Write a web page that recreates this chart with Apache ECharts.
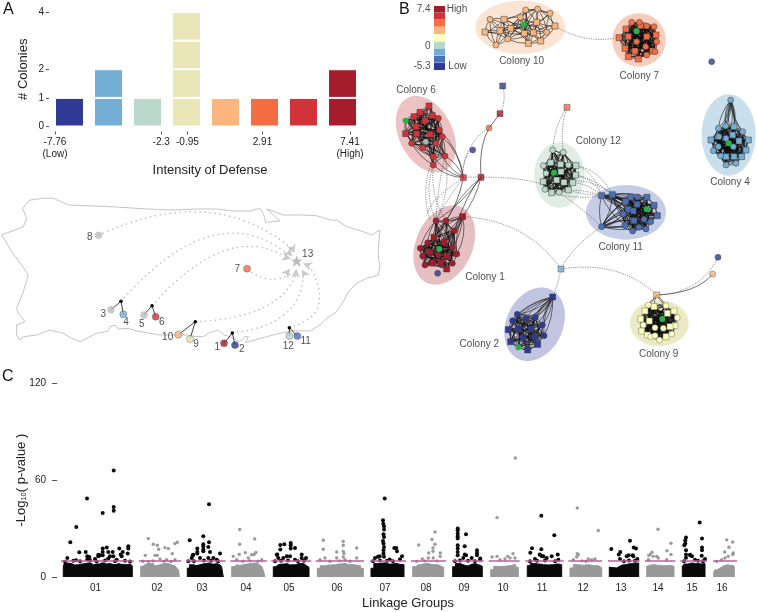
<!DOCTYPE html>
<html><head><meta charset="utf-8">
<style>html,body{margin:0;padding:0;background:#fff}#c{width:757px;height:612px}</style>
<script src="https://cdn.jsdelivr.net/npm/echarts@6/dist/echarts.min.js"></script>
</head><body><div id="c"></div>
<script>
const FONT='"Liberation Sans",Arial,sans-serif';
const NAVY='#2E3A94',BLUE='#4A70B8',SKY='#74AED4',MINT='#BAD8CC',SAND='#EAE6B8',PEACH='#FBB57F',ORANGE='#F46D43',RED='#D13438',DARK='#A51C2D',CREAM='#FFFFBF',GREEN='#27B34B';

// ---------- Panel A
const histCategories=['b1','b2','b3','b4','b5','b6','b7','b8'];
const histCounts=[1,2,1,4,1,1,1,2];
const histColors=[NAVY,SKY,MINT,SAND,PEACH,ORANGE,RED,DARK];
const histTicks=[-7.76,-2.3,-0.95,2.91,7.41];
const histTickLabels={'-7.76':'-7.76\n(Low)','-2.3':'-2.3\n ','-0.95':'-0.95\n ','2.91':'2.91\n ','7.41':'7.41\n(High)'};
const histYTicks=[0,1,2,4];

// ---------- Panel A2: map, in map units
const mapOutline=[[68,70],[90,45],[130,40],[160,40],[205,60],[260,62],[330,65],[380,68],[440,72],[520,75],[590,72],[650,72],[700,78],[750,78],[780,70],[790,85],[797,112],[840,108],[800,72],[850,90],[905,90],[950,92],[990,105],[1010,105],[1040,125],[1090,140],[1115,150],[1140,135],[1135,190],[1135,225],[1140,240],[1135,270],[1100,280],[1070,295],[1045,320],[1030,350],[1010,380],[980,400],[960,420],[930,438],[880,437],[840,445],[800,455],[738,472],[745,455],[735,455],[718,470],[690,455],[672,450],[655,435],[630,442],[610,455],[590,455],[560,450],[520,450],[480,450],[440,443],[410,438],[385,430],[355,432],[345,420],[330,425],[325,438],[290,445],[240,470],[215,460],[190,445],[150,435],[110,450],[70,455],[60,465],[50,450],[50,420],[75,410],[55,385],[50,370],[70,320],[85,270],[65,240],[35,200],[5,150],[70,125],[80,100],[68,70]];
const mapFlights=[[296,151,640,-10,880,195],[363,349,640,33,860,205],[456,362,680,110,855,215],[755,262,810,300,870,268],[586,410,830,400,885,275],[697,444,900,420,910,275],[868,428,1010,390,930,245]];
const mapStems=[[363,349,370,388],[363,349,333,374],[456,362,467,395],[456,362,432,390],[586,410,535,449],[586,410,570,462],[697,444,672,475],[697,444,705,480],[868,428,868,453],[868,428,892,453]];
const mapJunctions=[[363,349],[456,362],[586,410],[697,444],[868,428]];
const mapColonies=[[672,475],[705,480],[333,374],[370,388],[432,390],[467,395],[741,251],[296,151],[570,462],[535,449],[892,453],[868,453]];
const mapColonyColors=[DARK,NAVY,'#BDBDBD',SKY,'#BDBDBD',RED,ORANGE,'#BDBDBD',SAND,PEACH,BLUE,MINT];
const mapStar=[[890,228]];
const mapArrows=[[878,192],[860,218],[862,262],[888,265],[912,265],[922,240],[868,205]];
const mapLabels=[[652,488,'1'],[725,492,'2'],[310,387,'3'],[378,412,'4'],[425,418,'5'],[485,413,'6'],[712,254,'7'],[269,156,'8'],[588,477,'9'],[503,457,'10'],[917,468,'11'],[865,484,'12'],[923,209,'13']];

// ---------- Panel B: network, in network units
const colorbarCells=[[18,38],[39,59],[60,80],[81,102],[103,124],[125,146],[146,167],[168,188],[189,210]];
const colorbarColors=[DARK,RED,ORANGE,PEACH,CREAM,MINT,SKY,BLUE,NAVY];
const colorbarLabels=[[152,28,'7.4','right'],[200,28,'High','left'],[152,138,'0','right'],[152,200,'-5.3','right'],[205,200,'Low','left']];
const colonyNames=[[425,183,'Colony 10'],[778,230,'Colony 7'],[108,272,'Colony 6'],[655,425,'Colony 12'],[1050,548,'Colony 4'],[722,743,'Colony 11'],[315,832,'Colony 1'],[298,1033,'Colony 2'],[836,1063,'Colony 9']];

const colony10Squares=[[315,96],[372,58],[360,92],[433,100],[460,98],[470,67],[445,130],[482,123],[525,78],[392,85]];
const colony10Circles=[[330,58],[348,135],[383,117],[421,52],[437,30],[473,27],[510,40],[500,97]];
const colony7Squares=[[717,113],[738,87],[745,110],[735,145],[745,170],[775,177],[765,153],[818,153],[828,105],[800,110],[782,77]];
const colony7Circles=[[755,67],[778,67],[800,78],[822,80],[770,125],[797,140],[825,155],[830,125],[800,165]];
const colony6Squares=[[147,318],[120,337],[102,350],[135,362],[157,347],[108,380],[77,401],[110,401],[150,403]];
const colony6Circles=[[175,355],[178,390],[187,410],[168,430],[128,443],[95,430],[160,470],[195,468],[160,495]];
const colony1Squares=[[248,650],[162,712],[193,727],[150,757],[200,768],[182,788],[158,788],[200,807]];
const colony1Circles=[[168,662],[198,662],[223,692],[143,728],[217,742],[121,745],[128,768],[230,762],[135,795],[217,790],[175,765]];
const colony12Squares=[[512,488],[542,493],[588,497],[587,525],[490,545],[530,540],[552,547],[578,548],[565,570],[515,578],[543,515]];
const colony12Circles=[[518,450],[550,457],[490,497],[565,495],[495,568],[537,577],[498,520]];
const colony11Squares=[[665,587],[697,584],[752,592],[801,592],[737,605],[822,616],[745,628],[760,633],[771,613],[832,647],[762,662]];
const colony11Circles=[[773,591],[730,642],[792,658],[812,665],[735,675],[758,693],[777,682],[798,687],[665,680]];
const colony4Squares=[[1062,380],[993,420],[1058,405],[1077,423],[1098,450],[1085,470],[1038,470],[1062,470],[1105,420]];
const colony4Circles=[[1052,300],[1015,385],[1037,378],[1088,395],[1017,410],[1015,440],[1000,452],[1022,468],[1038,495],[1068,490],[1060,440],[1038,415]];
const colony2Squares=[[518,891],[415,987],[385,989],[453,987],[430,1013],[465,1012],[392,1025],[443,1050],[473,1033]];
const colony2Circles=[[412,943],[438,955],[466,952],[398,962],[487,975],[492,1007]];
const colony9Squares=[[795,933],[782,957],[785,993],[802,1005],[808,963],[822,920],[862,940],[882,933],[885,977],[870,980],[858,1010]];
const colony9Circles=[[858,917],[892,953],[790,975],[825,983],[850,985],[875,1002],[812,1010],[825,1007],[838,1020],[805,915]];

const greenNodes=[[432,74],[770,94],[77,362],[178,747],[522,518],[800,628],[1046,430],[415,1042],[847,957]];
// cx, cy, rx, ry, tilt in degrees
const colonyEllipses=[[421,82,135,80,0],[777,120,80,80,0],[138,403,80,122,27],[193,735,85,125,-24],[538,525,75,98,0],[738,637,120,82,0],[1046,405,81,122,0],[464,973,85,115,-25],[838,970,88,69,0]];
const colonyFills=['#FBE5D2','#F9CDBB','#EDC2C2','#E6BFC3','#E1ECE5','#C6CDE6','#C9DFEC','#C2C5E1','#ECEBC6'];
const colonyInk=[PEACH,ORANGE,RED,DARK,MINT,BLUE,SKY,NAVY,CREAM];

const looseSquares=[[368,258,NAVY],[360,341,DARK],[250,533,RED],[303,532,DARK],[561,322,ORANGE],[543,807,SKY],[830,885,PEACH]];
const looseCircles=[[995,185,NAVY],[327,384,ORANGE],[278,450,NAVY],[137,425,MINT],[173,820,NAVY],[1014,772,NAVY],[998,822,PEACH]];

const dottedLinks=[[525,78,610,130,705,115],[303,532,420,530,495,555],[250,533,276,530,303,532],[561,322,525,370,518,450],[561,322,540,380,550,457],[278,450,245,470,250,533],[327,384,260,420,245,530],[368,258,380,300,360,341],[248,650,440,660,543,807],[543,807,535,850,518,891],[543,807,575,740,665,680],[543,807,720,780,830,885],[830,885,960,880,1014,772],[588,497,640,510,665,587],[587,525,640,535,665,587],[578,548,625,550,665,587],[565,570,620,570,665,587],[552,547,630,530,697,584],[588,497,660,510,697,584],[587,525,650,540,697,584],[515,578,590,600,665,587],[565,570,630,590,697,584],[537,577,600,620,665,680],[160,495,130,580,168,662],[160,495,150,590,198,662],[195,468,170,580,168,662],[250,533,200,600,168,662],[160,470,120,570,150,660],[195,468,215,570,168,662],[250,533,150,600,143,640]];
const solidLinks=[[830,885,950,880,998,822],[360,341,344,362,327,384],[327,384,295,440,303,532],[250,533,235,610,198,662],[303,532,260,580,223,692]];
const hubFans=[
 {hub:[250,533],to:[[160,470],[195,468],[160,495],[187,410],[168,430],[178,390]],bend:.18},
 {hub:[303,532],to:[[248,650],[198,662],[168,662]],bend:.1},
 {hub:[248,650],to:[[198,662],[223,692],[193,727],[217,742],[230,762]],bend:.2},
 {hub:[518,891],to:colony2Circles.concat(colony2Squares.slice(1,5)),bend:.16},
 {hub:[1052,300],to:[[1015,385],[1037,378],[1062,380],[1088,395],[1038,415],[1058,405]],bend:.2},
 {hub:[665,680],to:[[737,605],[745,628],[760,633],[730,642],[762,662],[735,675],[771,613]],bend:.16},
 {hub:[665,587],to:[[737,605],[752,592],[745,628],[771,613]],bend:.12},
 {hub:[830,885],to:[[805,915],[822,920],[858,917],[795,933],[862,940]],bend:.1}];

// ---------- Panel C
const lgTickPositions=[95.5,157,202,246,289,337,385,426,464,503,542,583,621,658,692,722];
const lgTickLabels=['01','02','03','04','05','06','07','08','09','10','11','12','13','14','15','16'];
const lgThresholds=[[61,133.7],[139,181.3],[185.7,225.7],[230.3,267],[271.3,311.3],[315.7,364],[370,406],[411,446],[452,483.7],[488.7,519.7],[525.3,563.7],[568.3,602],[608,639.7],[645,675.3],[680.3,707],[713,737]];
const thresholdValue=9.9;
const lg01Body=[[63.3,7],[66,8.6],[70,8.3],[73,7.4],[76.7,7.6],[80,8],[83.3,8.3],[88.3,8.7],[93.3,7.6],[97,8],[101.7,8.7],[106,8],[110,8.3],[114,7.7],[118.3,8.3],[122,7.8],[126.7,7.6],[130,8],[132.3,7]];
const lg02Body=[[140.7,6.6],[145,7.6],[148,8.4],[151.7,8.3],[156,7],[160,7.6],[164,8.3],[168.3,8.3],[172,7.4],[175,7],[178,5.6],[179.3,4.5]];
const lg03Body=[[187.3,5.5],[191.7,7.6],[196,7],[200,7.6],[204,8.2],[208.3,8.7],[212,8],[216.7,8.3],[220,7.6],[223.3,6.2]];
const lg04Body=[[231.7,6.4],[236.7,7.6],[240,7.1],[243.3,7.6],[247,8],[250,8.3],[253,8.5],[256.7,8.7],[259,7.6],[261.7,6.6],[265,4]];
const lg05Body=[[273.3,6.4],[278.3,7.6],[282,8],[286.7,8.3],[290,7.4],[293.3,7.6],[298,8.2],[301.7,8.3],[306,7.2],[309,6]];
const lg06Body=[[317.3,5.4],[323.3,7],[328,7.4],[333.3,7.6],[338,8],[343.3,8.3],[348,7.8],[353.3,7.6],[358,7],[363.3,5.4]];
const lg07Body=[[371,5.4],[376.7,8.3],[383.3,8.7],[389,8],[395,8.3],[400,7.8],[404,7.6]];
const lg08Body=[[412.7,6.4],[418.3,7.6],[423,8],[426.7,8.3],[431,7.7],[435,7.6],[440,7],[443.7,6]];
const lg09Body=[[452.7,6.4],[458.3,8.3],[463,7.6],[466.7,7],[471,7.8],[475,8.3],[479,7.5],[482.3,6.6]];
const lg10Body=[[490.7,4.5],[496.7,6.6],[501,6.4],[505,6.6],[509,7],[513.3,7.6],[518.3,6]];
const lg11Body=[[527.3,7],[533.3,8.3],[538,8],[543.3,7.6],[548,7.4],[551.7,7.6],[556,8],[561.7,7.6]];
const lg12Body=[[570,5.6],[576.7,7.6],[582,7.3],[586.7,7.6],[591,7.2],[595,7],[601.7,5.8]];
const lg13Body=[[609.3,6.2],[612,5.8],[616.7,5.6],[620,6.8],[623.3,7.6],[628,8],[631.7,8.3],[635,8.5],[638.7,8.7]];
const lg14Body=[[646.7,6.6],[650,7.3],[653.3,7.6],[658,7.2],[663.3,7],[668,7.2],[674,6.6]];
const lg15Body=[[682.3,6.6],[686,8],[690,8.7],[694,8.2],[698.3,8.3],[702,8.1],[705,8.3]];
const lg16Body=[[713.7,3],[716,4.4],[718.3,5.6],[722,6.8],[725,7.6],[730,7.2],[734.3,6.6]];
const lgBodies=[lg01Body,lg02Body,lg03Body,lg04Body,lg05Body,lg06Body,lg07Body,lg08Body,lg09Body,lg10Body,lg11Body,lg12Body,lg13Body,lg14Body,lg15Body,lg16Body];

const oddGroupHits=[
[113.7,66],[87,48.6],[113.7,43.4],[113.7,41],[102.7,39.7],[76.3,31],[70.3,21.5],[79.3,15.3],[85.7,15.5],[67.3,11.8],[106.7,18.2],[102.7,17.6],[102.7,15.5],[102.7,13.4],[108.3,15.5],[112.7,15.5],[119.3,17.6],[128.3,19],[128.3,17.6],[127.7,14.5],[120.7,14],[122.7,15.5],[100,13.4],[98.3,12.8],[87.3,12.8],[87.3,10.8],[89.3,12.4],[76,10.3],[108.3,11.4],[95,11.2],[98.3,13.8],[110,12.8],[113.3,12.8],[121.7,12.8],[116.7,10.7],
[65,9.5],[73.3,10],[80,9.8],[90,10.3],[96.7,9.6],[105,10.2],[115,9.8],[125,10],[130,9.6],
[209,45.1],[203.3,25.2],[189.7,22.8],[209,21.5],[203.3,20.3],[203.3,19],[197.3,17.6],[197.3,15.5],[197.3,14.5],[203.3,17],[203.3,15.9],[208.3,18.6],[210,15.5],[192.7,13.4],[220,14.5],[191.7,11.8],[193.3,13.8],[200,11.8],[208.3,11.8],[213.3,11.8],[188.3,9.7],[216.7,10.7],
[194,9.8],[204,10.2],[211,10],[218,9.8],
[290.7,21],[284.3,20.3],[280.3,19.9],[280.3,17],[290.7,19.7],[290.7,17.6],[295,18],[277.3,14],[301.7,14],[276.7,13.8],[278.3,11.8],[283.3,11.8],[286.7,12.8],[290,12.8],[295,10.7],[306,11.8],[301.7,11.8],
[275,9.8],[281,10],[288,10.2],[298,9.8],[304,10],
[384.7,48.6],[383,35.2],[383.3,33],[384,31.4],[384,29.4],[383.5,26.5],[384,24.8],[383,22.3],[383.5,20.7],[384,18.6],[383.5,16.5],[383.5,14.5],[384,12.5],[394.3,18],[396.3,18],[397,16],[402,12.8],[400,11],[389.7,10.8],[379.7,12.8],[378,12.5],[375,11.8],
[373,9.8],[380,10.2],[387,10],[393,9.8],
[457.7,30],[457.7,29],[457.7,26.9],[457.7,25.2],[457.7,23.8],[457.7,19.7],[457.7,17.6],[457.7,15.5],[457.7,13.4],[466,26.5],[464.7,19],[464.7,14],[466,13.4],[477,16.5],[477,14.9],[477,13.4],[480.3,11.4],[463.3,11.8],[471.7,11.8],[480,10.7],
[455,9.8],[460,10.2],[468,10],[475,9.7],
[541.3,38],[554.3,25.8],[532,17.8],[530.3,15.1],[541.3,17.2],[557.7,14],[539.7,14],[542,12.8],[535,11.2],[540,13.8],[543.3,12.8],[546.7,11.8],[551.7,12.8],[558.3,10.7],
[530,9.8],[537,10],[545,10.2],[555,9.8],
[630,22.5],[611.3,17.4],[620.3,15.5],[618.7,13.9],[633.7,18.2],[636,17.6],[628.7,13.4],[632.7,13.4],[626.7,12.8],[620,11.2],[633.3,12.8],[637.3,11.2],
[624,9.8],[629,10.2],[635,10],
[699.7,33.7],[686,24.4],[685.3,22.8],[685.3,20.7],[684.3,19.7],[702,23.8],[702,18.2],[702,16.6],[686,16.6],[686,14],[686,12],[690.3,13.4],[692,12.8],[690,13.8],[701.7,13.2],[695,10.7],[705,11.2],
[684,9.8],[698,10],[703,9.8]];
const evenGroupHits=[
[148.3,23.8],[153.3,20.3],[157.3,19.7],[158.7,17.2],[165,18.2],[168.3,17.6],[175,20.7],[177.3,21.5],[172.3,14.5],[145.3,13.4],[155,13.4],[157.3,13.4],[148.3,9.7],[160,11.2],[166.7,10.7],[175,10.7],
[143,9.8],[153,10],[164,9.8],[171,9.6],
[239.7,29.4],[254.7,23.6],[239.7,20.3],[245.3,15.1],[239.3,14],[233.3,12.8],[256,15.2],[254,14],[251.7,13.8],[248.3,11.8],[236.7,10.7],[261.7,10.7],
[243,9.8],[250,10],[258,9.8],
[355,120.2],[323.3,22.8],[343.3,22.1],[343.3,19.7],[323.3,17.2],[356.7,18],[336.7,15.5],[343.3,15.9],[344,14.5],[325,11.8],[336.7,11.8],[343.3,12.4],[320,10.7],[356.7,11.8],[345,10.7],
[330,9.8],[340,10],[350,9.8],
[435,27.9],[432,23.2],[418.7,19.9],[435,20.3],[433,18],[433,15.9],[428.7,14.9],[440.3,14.9],[440.3,12.8],[422.3,11.2],[428.3,11.8],[433.3,11.8],[416.7,9.7],
[425,10],[437,10],
[515.3,73.7],[497,36.8],[492,12.4],[497,12.8],[513,14.5],[507.7,12.8],[510,11.8],[505,11.2],[500,10.7],[515,11.8],
[577.3,42.8],[598.3,28.8],[577.3,14.5],[576.7,12.4],[573.3,10.7],[578.3,13.8],[588.3,11.2],[595,11.2],[591.7,10.7],
[582,10],[586,9.8],
[658,29.6],[671,20.9],[667,16.3],[671,14],[652,15.3],[650.3,14],[648.7,13.4],[653.3,12.8],[658.3,11.8],[656.7,12.8],[666.7,10.7],[648.3,10.7],
[726.7,23],[732.7,21.7],[729,18.4],[724.7,15.5],[732.7,14],[725,11.8],[728.3,12.8],[733.3,14.9],[716.7,9.7],[721.7,10.7]];

// ---------- helpers that only assemble option objects
const colonyTable=[
 [colony10Squares,colony10Circles,0],[colony7Squares,colony7Circles,1],[colony6Squares,colony6Circles,2],
 [colony1Squares,colony1Circles,3],[colony12Squares,colony12Circles,4],[colony11Squares,colony11Circles,5],
 [colony4Squares,colony4Circles,6],[colony2Squares,colony2Circles,7],[colony9Squares,colony9Circles,8]];
function bend(a,b,k){const mx=(a[0]+b[0])/2,my=(a[1]+b[1])/2,dx=b[0]-a[0],dy=b[1]-a[1];return [a[0],a[1],mx-dy*k,my+dx*k,b[0],b[1]];}
const innerLinks=[];
colonyTable.forEach(([s,c,idx])=>{
  const all=s.concat(c,[greenNodes[idx]]);
  for(let i=0;i<all.length;i++)for(let j=i+1;j<all.length;j++){
    const d=Math.hypot(all[i][0]-all[j][0],all[i][1]-all[j][1]);
    if(d<(idx===0?85:125))innerLinks.push(bend(all[i],all[j],(i+j)%2?.14:-.14));
  }
});
const fanLinks=[];
hubFans.forEach(f=>f.to.forEach((t,i)=>fanLinks.push(bend(f.hub,t,i%2?f.bend:-f.bend))));

function curveSeries(xi,yi,data,style,z){
  return {type:'custom',xAxisIndex:xi,yAxisIndex:yi,silent:true,z,clip:false,data,
    renderItem(p,api){
      const a=api.coord([api.value(0),api.value(1)]),c=api.coord([api.value(2),api.value(3)]),b=api.coord([api.value(4),api.value(5)]);
      return {type:'bezierCurve',shape:{x1:a[0],y1:a[1],x2:b[0],y2:b[1],cpx1:c[0],cpy1:c[1]},style:Object.assign({fill:null},style)};
    }};
}
function dotSeries(xi,yi,data,size,symbol,color,z,border,bw){
  return {type:'scatter',xAxisIndex:xi,yAxisIndex:yi,silent:true,z,data,symbol,symbolSize:size,
    itemStyle:{color,opacity:1,borderColor:border||color,borderWidth:bw===undefined?0:bw},animation:false};
}
function textSeries(xi,yi,data,size){
  return {type:'scatter',xAxisIndex:xi,yAxisIndex:yi,silent:true,z:9,symbolSize:0,data,
    label:{show:true,position:'inside',color:'#222',fontFamily:FONT,fontSize:size,
      formatter:p=>p.value[2],align:'center',verticalAlign:'middle'},
    labelLayout:{hideOverlap:false}};
}

const series=[];
// Panel A bars, stacked in one-colony units
[1,2,3,4].forEach(level=>{
  series.push({type:'bar',xAxisIndex:0,yAxisIndex:0,stack:'n',barWidth:29,silent:true,
    data:histCounts.map((n,i)=>n>=level?{value:1,itemStyle:{color:histColors[i],borderColor:'#fff',borderWidth:1}}:null)});
});
series.push({type:'scatter',xAxisIndex:1,yAxisIndex:0,symbolSize:0,silent:true,data:histTicks.map(v=>[v,0])});

// Map
series.push({type:'line',xAxisIndex:2,yAxisIndex:1,data:mapOutline,showSymbol:false,silent:true,clip:false,z:1,lineStyle:{color:'#C4C4C4',width:1}});
series.push(curveSeries(2,1,mapFlights,{stroke:'#B8B8B8',lineWidth:1.5,lineDash:[0.1,4.9],lineCap:'round'},2));
series.push({type:'custom',xAxisIndex:2,yAxisIndex:1,silent:true,z:3,data:mapStems,renderItem(p,api){
  const a=api.coord([api.value(0),api.value(1)]),b=api.coord([api.value(2),api.value(3)]);
  return {type:'line',shape:{x1:a[0],y1:a[1],x2:b[0],y2:b[1]},style:{stroke:'#111',lineWidth:.8}};}});
series.push(dotSeries(2,1,mapJunctions,3.5,'circle','#000',4));
series.push({type:'scatter',xAxisIndex:2,yAxisIndex:1,silent:true,z:5,symbolSize:7,
  data:mapColonies.map((v,i)=>({value:v,itemStyle:{color:mapColonyColors[i],borderColor:mapColonyColors[i]==='#BDBDBD'?'#BDBDBD':'#555',borderWidth:.5}}))});
series.push(dotSeries(2,1,mapStar,12,'path://M12 0L15 9L24 9L17 14L20 24L12 18L4 24L7 14L0 9L9 9Z','#BDBDBD',5));
series.push({type:'scatter',xAxisIndex:2,yAxisIndex:1,silent:true,z:5,symbol:'path://M12 0L24 24L12 17L0 24Z',symbolSize:9,itemStyle:{color:'#BDBDBD'},
  data:mapArrows.map(a=>({value:a,symbolRotate:Math.atan2(-(mapStar[0][0]-a[0]),-(mapStar[0][1]-a[1]))*180/Math.PI}))});
series.push(textSeries(2,1,mapLabels,10));

// Network
series.push({type:'custom',xAxisIndex:3,yAxisIndex:2,silent:true,z:1,clip:false,data:colonyEllipses,renderItem(p,api){
  const c=api.coord([api.value(0),api.value(1)]),s=api.size([api.value(2),api.value(3)]);
  return {type:'ellipse',x:c[0],y:c[1],rotation:api.value(4)*Math.PI/180,shape:{cx:0,cy:0,rx:s[0],ry:s[1]},style:{fill:colonyFills[p.dataIndex]}};}});
series.push({type:'custom',xAxisIndex:3,yAxisIndex:2,silent:true,z:1,clip:false,data:colorbarCells,renderItem(p,api){
  const a=api.coord([162,api.value(0)]),b=api.coord([195,api.value(1)]);
  return {type:'rect',shape:{x:a[0],y:a[1],width:b[0]-a[0],height:b[1]-a[1]},style:{fill:colorbarColors[p.dataIndex]}};}});
series.push(curveSeries(3,2,innerLinks,{stroke:'#0a0a0a',lineWidth:.55},2));
series.push(curveSeries(3,2,fanLinks,{stroke:'#222',lineWidth:.6},2));
series.push(curveSeries(3,2,solidLinks,{stroke:'#333',lineWidth:.7},2));
series.push(curveSeries(3,2,dottedLinks,{stroke:'#555',lineWidth:.7,lineDash:[1.2,1.2]},2));
colonyTable.forEach(([s,c,idx])=>{
  const border=idx===8?'#777':'#3a3a3a';
  series.push(dotSeries(3,2,s,6,'rect',colonyInk[idx],3,border,.5));
  series.push(dotSeries(3,2,c,6,'circle',colonyInk[idx],3,border,.5));
});
series.push({type:'scatter',xAxisIndex:3,yAxisIndex:2,silent:true,z:3,symbol:'rect',symbolSize:6,data:looseSquares.map(v=>({value:v.slice(0,2),itemStyle:{color:v[2],borderColor:'#3a3a3a',borderWidth:.5}}))});
series.push({type:'scatter',xAxisIndex:3,yAxisIndex:2,silent:true,z:3,symbolSize:6,data:looseCircles.map(v=>({value:v.slice(0,2),itemStyle:{color:v[2],borderColor:'#3a3a3a',borderWidth:.5}}))});
series.push(dotSeries(3,2,greenNodes,6,'circle',GREEN,4));
series.push(textSeries(3,2,colonyNames,10));
colorbarLabels.forEach(l=>{
  series.push({type:'scatter',xAxisIndex:3,yAxisIndex:2,silent:true,z:9,symbolSize:0,data:[l.slice(0,3)],
    label:{show:true,position:'inside',color:'#222',fontFamily:FONT,fontSize:10,formatter:p=>p.value[2],align:l[3],verticalAlign:'middle'}});
});

// Manhattan
lgBodies.forEach((b,i)=>{
  const c=i%2?'#999999':'#0A0A0A';
  series.push({type:'line',xAxisIndex:4,yAxisIndex:3,silent:true,z:2,showSymbol:false,step:'middle',
    data:[[b[0][0],0]].concat(b,[[b[b.length-1][0],0]]),lineStyle:{color:c,width:1},areaStyle:{color:c,opacity:1}});
});
series.push(dotSeries(4,3,oddGroupHits,4,'circle','#0A0A0A',3));
series.push(dotSeries(4,3,evenGroupHits,3.4,'circle','#999999',3));
lgThresholds.forEach(t=>{
  series.push({type:'line',xAxisIndex:4,yAxisIndex:3,silent:true,z:4,showSymbol:false,
    data:[[t[0],thresholdValue],[t[1],thresholdValue]],lineStyle:{color:'#B85FA8',width:1.3}});
});

const noLine={show:false,onZero:false};
const hidden={show:false};
const option={
  animation:false,backgroundColor:'#fff',textStyle:{fontFamily:FONT},
  title:[['A',3,2],['B',399,2],['C',2,369]].map(t=>({text:t[0],left:t[1],top:t[2],padding:0,textStyle:{fontFamily:FONT,fontSize:16,fontWeight:'normal',color:'#111'}})),
  grid:[
    {left:50,top:12,width:312,height:114.5,outerBoundsMode:'none'},
    {left:0,top:185,width:380,height:190,outerBoundsMode:'none'},
    {left:380,top:0,width:377,height:375,outerBoundsMode:'none'},
    {left:60,top:383.3,width:680,height:193.7,outerBoundsMode:'none'}],
  xAxis:[
    {type:'category',gridIndex:0,data:histCategories,show:false},
    {type:'value',gridIndex:0,min:-8.017,max:8.027,position:'bottom',offset:5,splitLine:hidden,axisLine:noLine,
      axisTick:{show:true,length:3,lineStyle:{color:'#555'},customValues:histTicks},
      axisLabel:{margin:5,fontSize:10,color:'#222',lineHeight:12,customValues:histTicks,formatter:v=>histTickLabels[String(v)]||String(v),showMinLabel:true,showMaxLabel:true},
      name:'Intensity of Defense',nameLocation:'middle',nameGap:32,nameMoveOverlap:false,nameTextStyle:{fontSize:13,color:'#222',padding:[0,0,0,8]}},
    {type:'value',gridIndex:1,min:0,max:1140,show:false},
    {type:'value',gridIndex:2,min:0,max:1131,show:false},
    {type:'value',gridIndex:3,min:60,max:740,splitLine:hidden,axisLine:noLine,axisTick:hidden,
      axisLabel:{margin:6,fontSize:10,color:'#222',customValues:lgTickPositions,formatter:v=>lgTickLabels[lgTickPositions.indexOf(v)]||''},
      name:'Linkage Groups',nameLocation:'middle',nameGap:20,nameMoveOverlap:false,nameTextStyle:{fontSize:13,color:'#222',padding:[0,0,0,16]}}],
  yAxis:[
    {type:'value',gridIndex:0,min:0,max:4,offset:1,splitLine:hidden,axisLine:noLine,
      axisTick:{show:true,length:3,lineStyle:{color:'#555'},customValues:histYTicks},
      axisLabel:{margin:5,fontSize:10,color:'#222',customValues:histYTicks},
      name:'# Colonies',nameLocation:'middle',nameGap:19,nameMoveOverlap:false,nameTextStyle:{fontSize:13,color:'#222'}},
    {type:'value',gridIndex:1,min:0,max:570,inverse:true,show:false},
    {type:'value',gridIndex:2,min:0,max:1125,inverse:true,show:false},
    {type:'value',gridIndex:3,min:0,max:120,interval:60,offset:3,splitLine:hidden,axisLine:noLine,
      axisTick:{show:true,length:5,lineStyle:{color:'#555'}},
      axisLabel:{margin:11,fontSize:10,color:'#222'},
      name:'{a|-Log}{s|10}{a|( p-value )}',nameLocation:'middle',nameGap:29,nameMoveOverlap:false,
      nameTextStyle:{fontSize:13,color:'#222',rich:{a:{fontSize:13,fontFamily:FONT,color:'#222'},s:{fontSize:7.5,fontFamily:FONT,color:'#222',verticalAlign:'bottom'}}}}],
  series
};
const chart=echarts.init(document.getElementById('c'),null,{renderer:'canvas'});
chart.setOption(option);
</script></body></html>
